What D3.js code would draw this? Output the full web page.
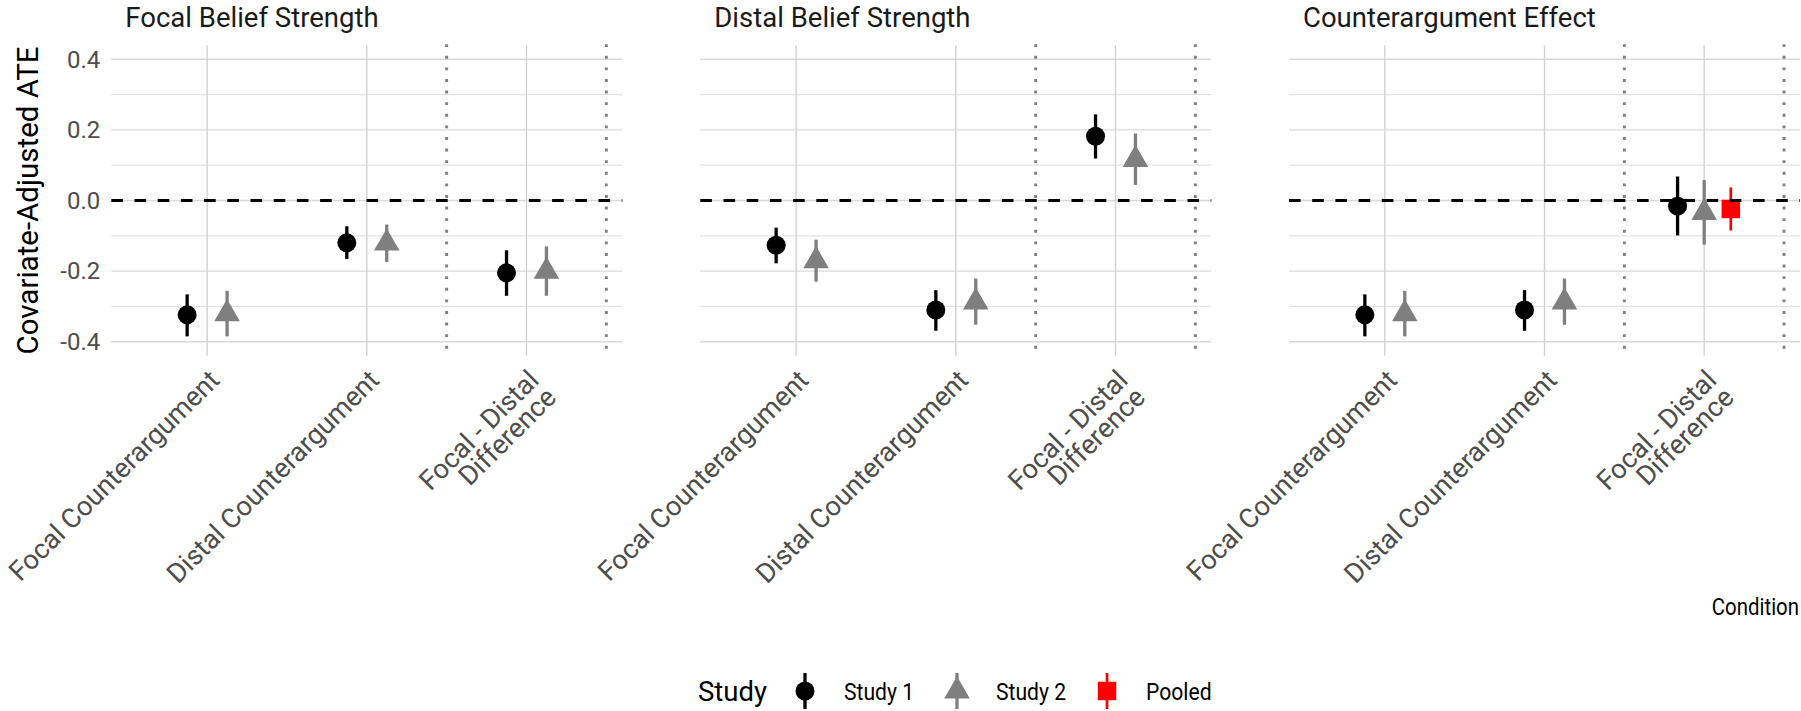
<!DOCTYPE html>
<html>
<head>
<meta charset="utf-8">
<script src="https://cdn.jsdelivr.net/npm/d3@7"></script>
<style>
body { margin: 0; background: #fff; }
svg text { font-family: Roboto, "Noto Sans", sans-serif; }
</style>
</head>
<body>
<script>
// facets, conditions and groups
var panels = ["Focal Belief Strength", "Distal Belief Strength", "Counterargument Effect"];
var conditions = ["Focal Counterargument", "Distal Counterargument", "Focal - Distal\nDifference"];
var studies = ["Study 1", "Study 2", "Pooled"];
var yTicks = [-0.4, -0.2, 0, 0.2, 0.4];
var yMinor = [-0.3, -0.1, 0.1, 0.3];

// rows = panels, columns = conditions
var study1Est = [[-0.324, -0.120, -0.205], [-0.127, -0.310, 0.182], [-0.324, -0.310, -0.016]];
var study1Lo  = [[-0.385, -0.166, -0.270], [-0.178, -0.369, 0.119], [-0.385, -0.369, -0.099]];
var study1Hi  = [[-0.266, -0.073, -0.141], [-0.077, -0.254, 0.244], [-0.266, -0.254, 0.068]];
var study2Est = [[-0.321, -0.121, -0.201], [-0.171, -0.288, 0.116], [-0.321, -0.288, -0.034]];
var study2Lo  = [[-0.385, -0.174, -0.270], [-0.230, -0.352, 0.044], [-0.385, -0.352, -0.125]];
var study2Hi  = [[-0.256, -0.068, -0.130], [-0.111, -0.221, 0.190], [-0.256, -0.221, 0.058]];
var pooledEst = [[null, null, null], [null, null, null], [null, null, -0.024]];
var pooledLo  = [[null, null, null], [null, null, null], [null, null, -0.085]];
var pooledHi  = [[null, null, null], [null, null, null], [null, null, 0.037]];

var W = 1801, H = 711;
var panelLeft = [111.3, 700.3, 1289],
    panelW = 511;

var colors = ["#000000", "#7f7f7f", "#ff0000"],
    shapes = [d3.symbolCircle, d3.symbolTriangle, d3.symbolSquare],
    sizes = [284, 284, 342],
    barW = [3.3, 3.3, 2.7];

var svg = d3.select("body").append("svg")
    .attr("width", W)
    .attr("height", H);

var y = d3.scaleLinear().domain([-0.44, 0.44]).range([355.8, 45.2]);
var plotTop = y.range()[1], plotBottom = y.range()[0];

panels.forEach(function (title, pi) {
    var x = d3.scalePoint()
        .domain(conditions)
        .range([panelLeft[pi], panelLeft[pi] + panelW])
        .padding(0.6);
    var step = x.step();

    var g = svg.append("g");

    // grid
    g.selectAll(".minor").data(yMinor).enter().append("line")
        .attr("x1", panelLeft[pi]).attr("x2", panelLeft[pi] + panelW)
        .attr("y1", function (d) { return y(d); }).attr("y2", function (d) { return y(d); })
        .attr("stroke", "#e3e3e3").attr("stroke-width", 1.2);
    g.selectAll(".major").data(yTicks).enter().append("line")
        .attr("x1", panelLeft[pi]).attr("x2", panelLeft[pi] + panelW)
        .attr("y1", function (d) { return y(d); }).attr("y2", function (d) { return y(d); })
        .attr("stroke", "#dadada").attr("stroke-width", 1.4);
    g.selectAll(".vgrid").data(conditions).enter().append("line")
        .attr("x1", function (d) { return x(d); }).attr("x2", function (d) { return x(d); })
        .attr("y1", plotTop).attr("y2", plotBottom)
        .attr("stroke", "#d2d2d2").attr("stroke-width", 1.4);

    // separators between the single conditions and the difference
    g.selectAll(".sep").data(conditions.slice(1)).enter().append("line")
        .attr("x1", function (d) { return x(d) + step / 2; })
        .attr("x2", function (d) { return x(d) + step / 2; })
        .attr("y1", plotTop - 1).attr("y2", plotBottom)
        .attr("stroke", "#7f7f7f").attr("stroke-width", 2.9)
        .attr("stroke-dasharray", "2.9,8.7");

    // point ranges
    var pts = [];
    conditions.forEach(function (c, ci) {
        var grp = [
            { s: 0, est: study1Est[pi][ci], lo: study1Lo[pi][ci], hi: study1Hi[pi][ci] },
            { s: 1, est: study2Est[pi][ci], lo: study2Lo[pi][ci], hi: study2Hi[pi][ci] }
        ];
        if (pooledEst[pi][ci] != null)
            grp.push({ s: 2, est: pooledEst[pi][ci], lo: pooledLo[pi][ci], hi: pooledHi[pi][ci] });
        grp.forEach(function (d, k) {
            d.cx = x(c) + (k - (grp.length - 1) / 2) * (0.5 / grp.length) * step;
            pts.push(d);
        });
    });

    var pr = g.selectAll(".pr").data(pts).enter().append("g");
    pr.append("line")
        .attr("x1", function (d) { return d.cx; }).attr("x2", function (d) { return d.cx; })
        .attr("y1", function (d) { return y(d.lo); }).attr("y2", function (d) { return y(d.hi); })
        .attr("stroke", function (d) { return colors[d.s]; })
        .attr("stroke-width", function (d) { return barW[d.s]; });
    pr.append("path")
        .attr("transform", function (d) { return "translate(" + d.cx + "," + y(d.est) + ")"; })
        .attr("d", function (d) { return d3.symbol(shapes[d.s], sizes[d.s])(); })
        .attr("fill", function (d) { return colors[d.s]; });

    // zero line
    g.append("line")
        .attr("x1", panelLeft[pi]).attr("x2", panelLeft[pi] + panelW)
        .attr("y1", y(0)).attr("y2", y(0))
        .attr("stroke", "#000").attr("stroke-width", 2.9)
        .attr("stroke-dasharray", "11.6,11.6");

    // facet title
    svg.append("text")
        .attr("x", panelLeft[pi] + 14).attr("y", 27)
        .attr("font-size", 27.5).attr("fill", "#1a1a1a")
        .text(title);

    // x axis labels
    var xAxis = svg.append("g")
        .attr("transform", "translate(0," + plotBottom + ")")
        .call(d3.axisBottom(x).tickSize(0));
    xAxis.select(".domain").remove();
    xAxis.selectAll(".tick text")
        .attr("y", null).attr("dy", null)
        .attr("transform", "translate(0,12.5) rotate(-45)")
        .attr("text-anchor", "end")
        .attr("font-size", 27.2)
        .attr("fill", "#4d4d4d")
        .style("font-family", "Roboto, sans-serif")
        .text(null)
        .each(function (d) {
            var t = d3.select(this);
            d.split("\n").forEach(function (line, li) {
                t.append("tspan").attr("x", 0).attr("dy", li === 0 ? "0.7em" : "0.9em").text(line);
            });
        });
});

// y axis
var yAxis = svg.append("g")
    .attr("transform", "translate(" + panelLeft[0] + ",0)")
    .call(d3.axisLeft(y).tickValues(yTicks).tickSize(0).tickPadding(11)
        .tickFormat(function (d) { return d.toFixed(1); }));
yAxis.select(".domain").remove();
yAxis.selectAll("text").attr("font-size", 24).attr("fill", "#4d4d4d")
    .style("font-family", "Roboto, sans-serif");

svg.append("text")
    .attr("transform", "translate(38," + ((plotTop + plotBottom) / 2) + ") rotate(-90)")
    .attr("text-anchor", "middle")
    .attr("font-size", 29.5)
    .text("Covariate-Adjusted ATE");

svg.append("text")
    .attr("transform", "translate(1799,615) scale(0.85,1)")
    .attr("text-anchor", "end")
    .attr("font-size", 24)
    .text("Condition");

// legend
var legY = 691;
svg.append("text")
    .attr("x", 698).attr("y", legY + 10)
    .attr("font-size", 27.5)
    .text("Study");
var keyX = [805, 957, 1107];
var leg = svg.selectAll(".leg").data(studies).enter().append("g")
    .attr("transform", function (d, i) { return "translate(" + keyX[i] + "," + legY + ")"; });
leg.append("line")
    .attr("y1", -18).attr("y2", 18)
    .attr("stroke", function (d, i) { return colors[i]; })
    .attr("stroke-width", function (d, i) { return barW[i]; });
leg.append("path")
    .attr("d", function (d, i) { return d3.symbol(shapes[i], sizes[i])(); })
    .attr("fill", function (d, i) { return colors[i]; });
leg.append("text")
    .attr("transform", "translate(39,8.5) scale(0.92,1)")
    .attr("font-size", 23)
    .text(function (d) { return d; });
</script>
</body>
</html>
